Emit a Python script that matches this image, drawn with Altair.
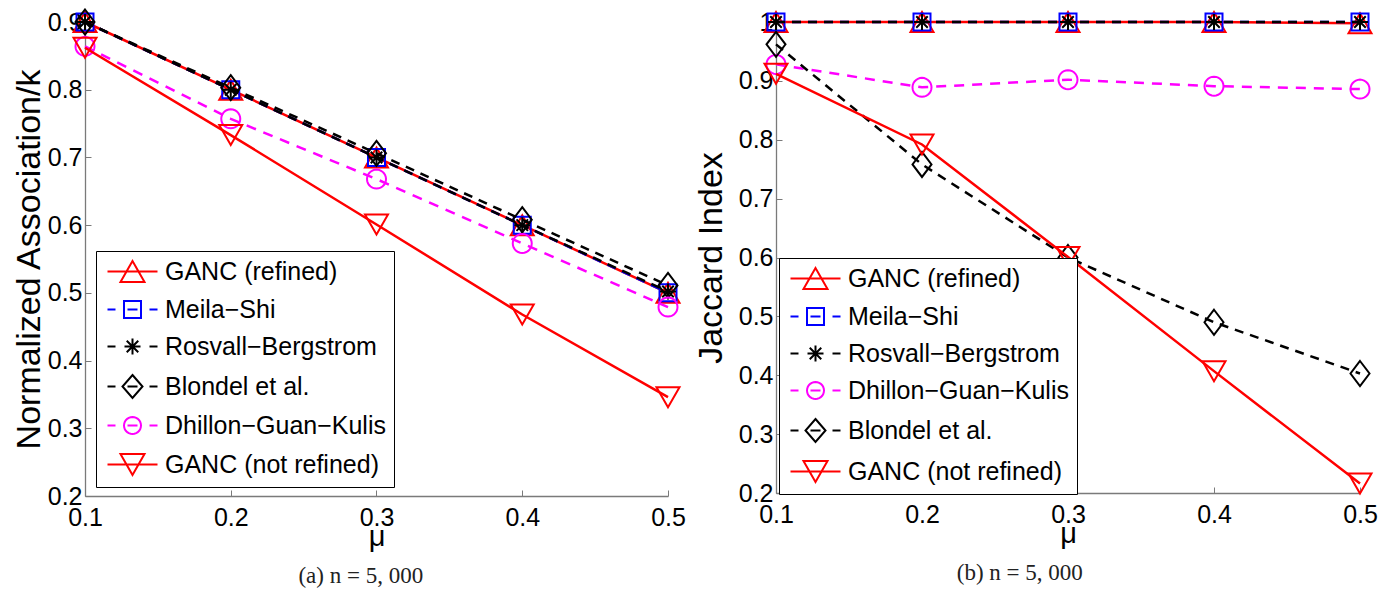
import math
import altair as alt
import pandas as pd

# ---------------- data ----------------
mu = [0.1, 0.2, 0.3, 0.4, 0.5]

# (a) Normalized Association / k
na_ganc_refined = [0.900, 0.800, 0.700, 0.600, 0.500]
na_meila_shi = [0.900, 0.800, 0.700, 0.600, 0.500]
na_rosvall = [0.900, 0.800, 0.700, 0.600, 0.502]
na_blondel = [0.900, 0.803, 0.706, 0.608, 0.511]
na_dhillon = [0.864, 0.757, 0.668, 0.573, 0.479]
na_ganc_not = [0.862, 0.733, 0.601, 0.468, 0.346]

# (b) Jaccard Index
ji_ganc_refined = [1.000, 1.000, 1.000, 1.000, 0.998]
ji_meila_shi = [1.000, 1.000, 1.000, 1.000, 1.000]
ji_rosvall = [1.000, 1.000, 1.000, 1.000, 1.000]
ji_dhillon = [0.928, 0.889, 0.902, 0.891, 0.886]
ji_blondel = [0.962, 0.758, 0.600, 0.490, 0.403]
ji_ganc_not = [0.912, 0.792, 0.601, 0.407, 0.216]

S_GR = "GANC (refined)"
S_MS = "Meila\u2212Shi"
S_RB = "Rosvall\u2212Bergstrom"
S_BL = "Blondel et al."
S_DG = "Dhillon\u2212Guan\u2212Kulis"
S_GN = "GANC (not refined)"

order_a = [S_GR, S_MS, S_RB, S_BL, S_DG, S_GN]
order_b = [S_GR, S_MS, S_RB, S_DG, S_BL, S_GN]
values_a = {S_GR: na_ganc_refined, S_MS: na_meila_shi, S_RB: na_rosvall,
            S_BL: na_blondel, S_DG: na_dhillon, S_GN: na_ganc_not}
values_b = {S_GR: ji_ganc_refined, S_MS: ji_meila_shi, S_RB: ji_rosvall,
            S_DG: ji_dhillon, S_BL: ji_blondel, S_GN: ji_ganc_not}

# ---------------- styles ----------------
def poly(pts):
    return "M" + "L".join(f"{x:.3f},{y:.3f}" for x, y in pts) + "Z"

def circ(cx, r, n=28):
    return poly([(cx + r * math.cos(2 * math.pi * k / n), r * math.sin(2 * math.pi * k / n)) for k in range(n)])

def tri_up(cx, w, h):
    return poly([(cx - w, h), (cx + w, h), (cx, -h)])

def tri_dn(cx, w, h):
    return poly([(cx - w, -h), (cx + w, -h), (cx, h)])

def sq(cx, a):
    return poly([(cx - a, -a), (cx + a, -a), (cx + a, a), (cx - a, a)])

def dia(cx, w, h):
    return poly([(cx, -h), (cx + w, 0), (cx, h), (cx - w, 0)])

def star(cx, a):
    d = a * 0.72
    return (f"M{cx-a},0L{cx+a},0M{cx},{-a}L{cx},{a}"
            f"M{cx-d},{-d}L{cx+d},{d}M{cx-d},{d}L{cx+d},{-d}")

# plot markers (unit = 10 px with size 400)
marker = {
    S_GR: tri_up(0, 1.15, 1.0),
    S_MS: sq(0, 0.85),
    S_RB: star(0, 0.8),
    S_BL: dia(0, 0.95, 1.25),
    S_DG: circ(0, 0.95),
    S_GN: tri_dn(0, 1.15, 1.0),
}
color = {S_GR: "#ff0000", S_MS: "#0000ff", S_RB: "#000000",
         S_BL: "#000000", S_DG: "#ff00ff", S_GN: "#ff0000"}
dash = {S_GR: None, S_MS: [9, 7], S_RB: [9, 7], S_BL: [9, 7],
        S_DG: [10, 8], S_GN: None}

# legend symbols: line + marker (unit = 10 px)
MC = 1.6
SOLID = "M-0.9,0L4.1,0"
DASHED = "M-0.9,0L-0.1,0M3.3,0L4.1,0" + f"M{MC-0.5},0L{MC+0.5},0"
leg_sym = {
    S_GR: SOLID + tri_up(MC, 1.2, 1.05),
    S_MS: DASHED + sq(MC, 0.85),
    S_RB: DASHED + star(MC, 0.8),
    S_BL: DASHED + dia(MC, 1.0, 1.15),
    S_DG: DASHED + circ(MC, 0.85),
    S_GN: SOLID + tri_dn(MC, 1.2, 1.05),
}

FONT = "Liberation Sans"
AXIS_GRAY = "#7a7a7a"


def panel(order, values, ytitle, ydom, ytickvals, caption, W, H, lx, ly, cdx, ytp):
    rows = [{"mu": m, "v": v, "s": s} for s in order for m, v in zip(mu, values[s])]
    df = pd.DataFrame(rows)
    xs = alt.Scale(domain=[0.1, 0.5], nice=False, zero=False)
    ys = alt.Scale(domain=ydom, nice=False, zero=False)

    main_axes = alt.Chart(df).mark_line(opacity=0).encode(
        x=alt.X("mu:Q", scale=xs, title="\u03bc", axis=alt.Axis(
            values=mu, format=".1f", ticks=False, grid=False, domainColor=AXIS_GRAY,
            domainWidth=1.3, labelFont=FONT, labelFontSize=25, labelColor="black",
            labelPadding=9, labelFlush=False, titleFont=FONT, titleFontSize=29,
            titleFontWeight="normal", titleColor="black", titlePadding=-8)),
        y=alt.Y("v:Q", scale=ys, title=ytitle, axis=alt.Axis(
            values=ytickvals, format=".1~f", ticks=False, grid=False, domainColor=AXIS_GRAY,
            domainWidth=1.3, labelFont=FONT, labelFontSize=25, labelColor="black",
            labelPadding=3, labelFlush=False, titleFont=FONT, titleFontSize=34,
            titleFontWeight="normal", titleColor="black", titlePadding=ytp)),
        detail="s:N",
    )
    tick_axes = alt.Chart(df).mark_line(opacity=0).encode(
        x=alt.X("mu:Q", scale=xs, title=None, axis=alt.Axis(
            orient="top", offset=-H, values=mu, labels=False, domain=False, grid=False,
            ticks=True, tickSize=6, tickColor=AXIS_GRAY, tickWidth=1)),
        y=alt.Y("v:Q", scale=ys, title=None, axis=alt.Axis(
            orient="right", offset=-W, values=ytickvals, labels=False, domain=False,
            grid=False, ticks=True, tickSize=6, tickColor=AXIS_GRAY, tickWidth=1)),
        detail="s:N",
    )
    layers = [main_axes, tick_axes]
    for s in order:
        d = df[df.s == s]
        lk = dict(color=color[s], strokeWidth=2.5, clip=False)
        if dash[s]:
            lk["strokeDash"] = dash[s]
        layers.append(alt.Chart(d).mark_line(**lk).encode(
            x=alt.X("mu:Q", scale=xs, axis=None), y=alt.Y("v:Q", scale=ys, axis=None)))
        layers.append(alt.Chart(d).mark_point(
            shape=marker[s], size=400, color=color[s], filled=False, strokeWidth=2,
            opacity=1, clip=False).encode(
            x=alt.X("mu:Q", scale=xs, axis=None), y=alt.Y("v:Q", scale=ys, axis=None)))

    leg = alt.Legend(
        title=None, orient="none", legendX=lx, legendY=ly, strokeColor="black",
        fillColor="white", padding=8, cornerRadius=0, symbolSize=400,
        symbolStrokeWidth=2, symbolOpacity=1, labelFont=FONT, labelFontSize=25,
        labelColor="black", labelOffset=36, rowPadding=11, labelLimit=400)
    legend_layer = alt.Chart(df).mark_point(filled=False, opacity=0, size=1).encode(
        x=alt.X("mu:Q", scale=xs, axis=None),
        y=alt.Y("v:Q", scale=ys, axis=None),
        color=alt.Color("s:N", scale=alt.Scale(domain=order, range=[color[s] for s in order]), legend=leg),
        shape=alt.Shape("s:N", scale=alt.Scale(domain=order, range=[leg_sym[s] for s in order]), legend=leg),
    )
    layers.append(legend_layer)

    return alt.layer(*layers).resolve_axis(x="independent", y="independent").properties(
        width=W, height=H,
        title=alt.Title(caption, orient="bottom", frame="bounds", anchor="middle",
                        font="Liberation Serif", fontSize=23, fontWeight="normal",
                        color="#222222", offset=14, dx=cdx),
    )


left = panel(order_a, values_a, "Normalized Association/k", [0.2, 0.9],
             [0.2, 0.3, 0.4, 0.5, 0.6, 0.7, 0.8, 0.9], "(a) n = 5, 000",
             583, 474, 11, 229, 12, 1)
right = panel(order_b, values_b, "Jaccard Index", [0.2, 1.0],
              [0.2, 0.3, 0.4, 0.5, 0.6, 0.7, 0.8, 0.9, 1.0], "(b) n = 5, 000",
              584, 471, 3, 236, -16, 10)

chart = alt.hconcat(left, right, spacing=8).resolve_scale(
    x="independent", y="independent", color="independent", shape="independent"
).resolve_legend(color="independent", shape="independent").properties(
    padding={"left": 4, "top": -3, "right": 0, "bottom": 0}
).configure_view(stroke=None)

chart.save("out.html", embed_options={"renderer": "svg", "actions": False})
